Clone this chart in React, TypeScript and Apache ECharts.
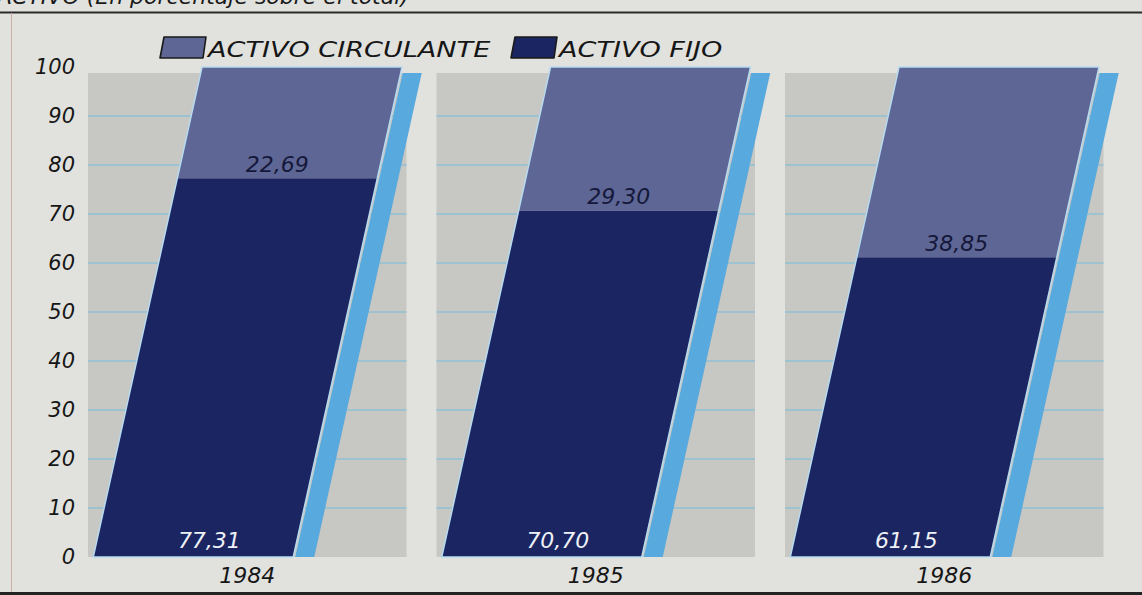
import React, { useEffect, useRef } from "react";
import * as echarts from "echarts";

// ---- data ----
const YEARS = ["1984", "1985", "1986"];
const ACTIVO_FIJO = [77.31, 70.7, 61.15];
const ACTIVO_CIRCULANTE = [22.69, 29.3, 38.85];
const GRID_TICKS = [10, 20, 30, 40, 50, 60, 70, 80, 90];
const PANEL_TOP = 98.8;
const TITLE = "ACTIVO (En porcentaje sobre el total)";
const LEGEND_NAMES = ["ACTIVO CIRCULANTE", "ACTIVO FIJO"];

// ---- styles ----
const BG = "#e1e2de";
const PANEL = "#c7c7c3";
const GRIDLINE = "#8fc1d5";
const DARK = "#1b2561";
const LIGHT = "#5d6694";
const SIDE = "#58a9dd";
const EDGE = "#b7daef";
const FONT = '"DejaVu Sans", "Open Sans", sans-serif';
const SLANT = 0.222; // px of horizontal shift per px of height
const BAR_W = 200;
const BAR_OFF = -154; // bottom-left of bar relative to band centre
const PANEL_GAP = 15;

const fmt = (v: number) => v.toFixed(2).replace(".", ",");

export default function App() {
  const ref = useRef<HTMLDivElement>(null);
  useEffect(() => {
    if (!ref.current) return;
    const chart = echarts.init(ref.current, null, { renderer: "svg" });

    const geom = (api: any, i: number) => {
      const [cx, y0] = api.coord([i, 0]);
      const bw = api.size([1, 0])[0];
      const xl = (y: number) => cx + BAR_OFF + (y0 - y) * SLANT;
      return { cx, y0, bw, xl };
    };

    const segment = (fill: string, labelColor: string, labelAtBottom: boolean) =>
      (params: any, api: any) => {
        const i = api.value(0);
        const v1 = api.value(1);
        const v2 = api.value(2);
        const { xl } = geom(api, i);
        const y1 = api.coord([i, v1])[1];
        const y2 = api.coord([i, v2])[1];
        const pts = [
          [xl(y1), y1],
          [xl(y1) + BAR_W, y1],
          [xl(y2) + BAR_W, y2],
          [xl(y2), y2],
        ];
        const ly = labelAtBottom ? y1 - 6 : y1 - 3;
        const lx = labelAtBottom ? xl(ly + 10) + BAR_W / 2 + 17 : xl(y1) + BAR_W / 2;
        return {
          type: "group",
          children: [
            { type: "polygon", shape: { points: pts }, style: { fill } },
            {
              type: "text",
              x: lx,
              y: ly,
              style: {
                text: fmt(v2 - v1),
                fill: labelColor,
                fontFamily: FONT,
                fontStyle: "italic",
                fontSize: 22,
                align: "center",
                verticalAlign: "bottom",
              },
            },
          ],
        };
      };

    const totals = ACTIVO_FIJO.map((v, i) => v + ACTIVO_CIRCULANTE[i]);

    const legendItem = (x: number, name: string, color: string) => ({
      type: "group",
      x,
      y: 37,
      children: [
        {
          type: "polygon",
          shape: { points: [[4, 0], [46, 0], [43, 21], [0, 21]] },
          style: { fill: color, stroke: "#1a1a1a", lineWidth: 1.6, lineJoin: "round" },
        },
        {
          type: "text",
          x: 48,
          y: 13,
          scaleX: 1.29,
          style: {
            text: name,
            fontFamily: FONT,
            fontStyle: "italic",
            fontSize: 21,
            fill: "#161616",
            verticalAlign: "middle",
          },
        },
      ],
    });

    const option: any = {
      animation: false,
      backgroundColor: BG,
      grid: { left: 73, right: 23.5, top: 67, bottom: 38 },
      xAxis: {
        type: "category",
        data: YEARS,
        axisLine: { show: false },
        axisTick: { show: false },
        axisLabel: {
          margin: 7,
          fontFamily: FONT,
          fontStyle: "italic",
          fontSize: 22,
          color: "#161616",
        },
      },
      yAxis: {
        type: "value",
        min: 0,
        max: 100,
        interval: 10,
        splitLine: { show: false },
        axisLine: { show: false },
        axisTick: { show: false },
        axisLabel: {
          margin: -2,
          fontFamily: FONT,
          fontStyle: "italic",
          fontSize: 21,
          color: "#161616",
        },
      },
      graphic: [
        {
          type: "text",
          left: -3,
          top: -15,
          style: {
            text: TITLE,
            fontFamily: FONT,
            fontStyle: "italic",
            fontSize: 22,
            fill: "#1a1a1a",
          },
        },
        {
          type: "rect",
          shape: { x: 0, y: 11.5, width: 1142, height: 2 },
          style: { fill: "#2b2b2b" },
        },
        {
          type: "rect",
          shape: { x: 11, y: 13, width: 1, height: 580 },
          style: { fill: "#c9aea2" },
        },
        {
          type: "rect",
          shape: { x: 0, y: 592, width: 1142, height: 3 },
          style: { fill: "#222222" },
        },
        legendItem(160, LEGEND_NAMES[0], LIGHT),
        legendItem(511, LEGEND_NAMES[1], DARK),
      ],
      series: [
        {
          type: "custom",
          name: "panels",
          z: 1,
          silent: true,
          data: YEARS.map((_, i) => [i]),
          renderItem: (params: any, api: any) => {
            const i = api.value(0);
            const { cx, y0, bw } = geom(api, i);
            const yTop = api.coord([i, PANEL_TOP])[1];
            const half = bw / 2 - PANEL_GAP;
            const children: any[] = [
              {
                type: "rect",
                shape: { x: cx - half, y: yTop, width: 2 * half, height: y0 - yTop },
                style: { fill: PANEL },
              },
            ];
            GRID_TICKS.forEach((t) => {
              const y = api.coord([i, t])[1];
              children.push({
                type: "line",
                shape: { x1: cx - half, y1: y, x2: cx + half, y2: y },
                style: { stroke: GRIDLINE, lineWidth: 1.5 },
              });
            });
            return { type: "group", children };
          },
        },
        {
          type: "custom",
          name: "sides",
          z: 2,
          silent: true,
          data: totals.map((t, i) => [i, t]),
          renderItem: (params: any, api: any) => {
            const i = api.value(0);
            const { y0, xl } = geom(api, i);
            const yTop = api.coord([i, Math.min(api.value(1), PANEL_TOP)])[1];
            const r0 = xl(y0) + BAR_W + 2;
            const r1 = xl(yTop) + BAR_W + 2;
            return {
              type: "polygon",
              shape: {
                points: [
                  [r0, y0],
                  [r0 + 19, y0],
                  [r1 + 19, yTop],
                  [r1, yTop],
                ],
              },
              style: { fill: SIDE },
            };
          },
        },
        {
          type: "custom",
          name: LEGEND_NAMES[1],
          z: 3,
          itemStyle: { color: DARK },
          data: ACTIVO_FIJO.map((v, i) => [i, 0, v]),
          renderItem: segment(DARK, "#eef1f7", true),
        },
        {
          type: "custom",
          name: LEGEND_NAMES[0],
          z: 3,
          itemStyle: { color: LIGHT },
          data: ACTIVO_CIRCULANTE.map((v, i) => [i, ACTIVO_FIJO[i], ACTIVO_FIJO[i] + v]),
          renderItem: segment(LIGHT, "#15183a", false),
        },
        {
          type: "custom",
          name: "edges",
          z: 4,
          silent: true,
          data: totals.map((t, i) => [i, t]),
          renderItem: (params: any, api: any) => {
            const i = api.value(0);
            const { y0, xl } = geom(api, i);
            const yT = api.coord([i, api.value(1)])[1];
            return {
              type: "polygon",
              shape: {
                points: [
                  [xl(y0), y0],
                  [xl(y0) + BAR_W, y0],
                  [xl(yT) + BAR_W, yT],
                  [xl(yT), yT],
                ],
              },
              style: { fill: "none", stroke: EDGE, lineWidth: 1.5 },
            };
          },
        },
      ],
    };

    chart.setOption(option);
    return () => chart.dispose();
  }, []);

  return (
    <div
      ref={ref}
      style={{ position: "fixed", left: 0, top: 0, width: 1142, height: 595 }}
    />
  );
}
